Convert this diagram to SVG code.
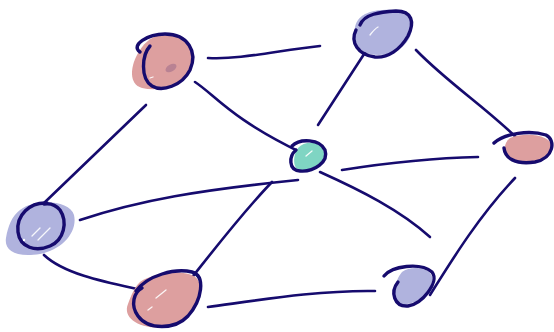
<svg xmlns="http://www.w3.org/2000/svg" width="554" height="332" viewBox="0 0 554 332">
  <style>
    .edge { fill: none; stroke: #160b6e; stroke-width: 2.6; stroke-linecap: round; }
    .ring { fill: none; stroke: #160b6e; stroke-width: 3.4; stroke-linecap: round; }
    .pink { fill: #dd9f9f; }
    .blue { fill: #b0b3de; }
    .teal { fill: #7fd5c3; }
    .gloss { fill: none; stroke: #ffffff; stroke-width: 1.3; stroke-linecap: round; opacity: 0.9; }
  </style>
  <rect width="554" height="332" fill="#ffffff"/>

  <g id="connectors">
    <path class="edge" d="M208 58 C240 60 280 50 320 46"/>
    <path class="edge" d="M195 82 C215 95 230 118 300 152"/>
    <path class="edge" d="M146 105 L44 203" stroke-width="2"/>
    <path class="edge" d="M368 48 L318 125"/>
    <path class="edge" d="M416 50 C450 85 490 110 524 145"/>
    <path class="edge" d="M478 157 C430 158 380 164 342 170"/>
    <path class="edge" d="M515 178 C480 215 455 255 430 295"/>
    <path class="edge" d="M298 180 C200 190 140 200 80 220"/>
    <path class="edge" d="M272 182 C240 215 210 255 182 290"/>
    <path class="edge" d="M320 172 C360 190 400 210 430 237"/>
    <path class="edge" d="M44 255 C65 275 110 283 142 290"/>
    <path class="edge" d="M208 307 C260 300 320 290 375 291"/>
  </g>

  <g id="node-top-left">
    <path class="pink" d="M160 35 C185 30 196 50 190 68 C184 86 160 92 142 88 C128 84 131 66 137 55 C143 44 150 37 160 35 Z"/>
    <path class="ring" d="M140 52 C130 45 148 34 165 34 C188 34 198 52 190 70 C182 86 162 92 152 86 C140 78 142 55 150 46"/>
    <ellipse cx="171" cy="68" rx="6" ry="3.5" transform="rotate(-30 171 68)" fill="#b07a90" opacity="0.8"/>
    <path class="gloss" d="M150 78 L153 77"/>
  </g>

  <g id="node-top-right">
    <path class="blue" d="M370 12 C392 6 415 12 412 30 C409 48 390 58 370 54 C352 50 352 28 358 20 C362 15 365 14 370 12 Z"/>
    <path class="ring" d="M360 25 C364 14 380 12 396 11 C412 11 415 22 408 36 C400 50 388 58 375 57 C358 55 350 42 356 30"/>
    <path class="gloss" d="M370 35 C373 31 376 28 378 27"/>
  </g>

  <g id="node-center">
    <path class="teal" d="M298 148 C305 140 322 141 324 152 C326 164 312 170 300 170 C292 169 293 155 298 148 Z"/>
    <path class="ring" d="M292 146 C300 138 320 139 325 150 C329 162 314 172 300 171 C288 170 289 156 296 150"/>
    <path class="gloss" d="M306 156 L312 151"/>
  </g>

  <g id="node-right">
    <path class="pink" d="M510 138 C525 132 552 134 552 148 C552 160 535 165 520 163 C505 161 500 146 510 138 Z"/>
    <path class="ring" d="M494 143 C505 133 530 130 546 135 C556 140 554 158 535 162 C515 165 505 158 504 148"/>
  </g>

  <g id="node-left">
    <path class="blue" d="M20 210 C35 198 70 200 74 215 C78 232 62 250 40 254 C15 258 4 250 6 238 C8 226 12 216 20 210 Z"/>
    <path class="ring" d="M47 203 C30 202 16 215 18 232 C20 248 36 252 50 246 C64 240 68 222 60 210 C55 204 50 203 44 204"/>
    <path class="gloss" d="M32 236 L40 228 M38 240 L50 228"/>
    <circle cx="24" cy="240" r="1.2" fill="#ffffff"/>
  </g>

  <g id="node-bottom-left">
    <path class="pink" d="M140 282 C155 272 190 268 198 280 C205 292 195 322 170 327 C140 331 122 318 128 304 C131 296 134 288 140 282 Z"/>
    <path class="ring" d="M136 291 C148 275 175 268 192 272 C206 276 202 300 188 316 C175 330 148 330 138 316 C130 305 134 292 142 288"/>
    <path class="gloss" d="M156 298 L166 290 M148 310 L152 307"/>
  </g>

  <g id="node-bottom-right">
    <path class="blue" d="M402 272 C412 264 436 268 432 282 C429 296 414 306 400 304 C390 300 395 280 402 272 Z"/>
    <path class="ring" d="M384 276 C392 266 420 262 432 272 C440 282 422 304 408 306 C394 307 390 292 398 282"/>
  </g>
</svg>
